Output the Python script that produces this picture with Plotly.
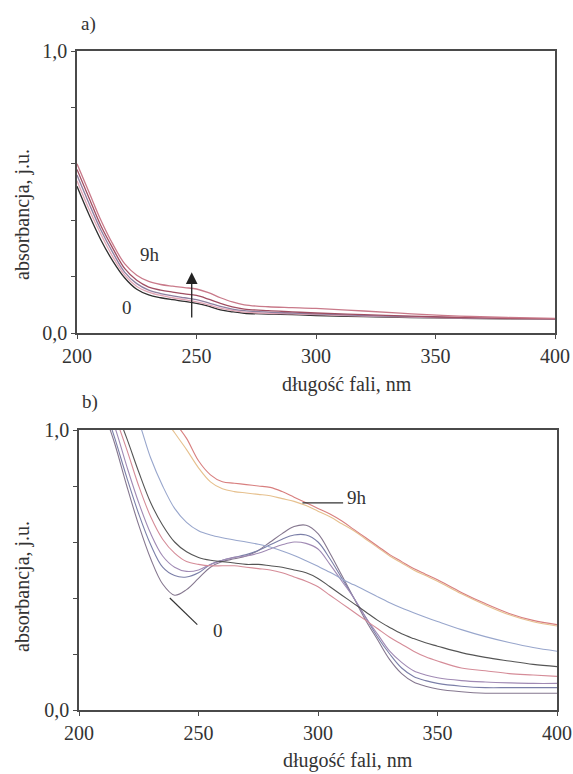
import plotly.graph_objects as go

# ---------------- data: panel a ----------------
wl_a = [200, 205, 210, 215, 220, 225, 230, 235, 240, 245, 250, 255, 260, 265, 270,
        280, 290, 300, 320, 340, 360, 380, 400]
a_0h = [0.52, 0.42, 0.33, 0.255, 0.195, 0.155, 0.135, 0.125, 0.118, 0.112, 0.105, 0.095,
        0.082, 0.075, 0.07, 0.067, 0.065, 0.062, 0.058, 0.055, 0.052, 0.05, 0.05]
a_2h = [0.54, 0.44, 0.35, 0.27, 0.205, 0.165, 0.145, 0.133, 0.125, 0.118, 0.11, 0.1,
        0.088, 0.08, 0.074, 0.07, 0.068, 0.065, 0.06, 0.056, 0.053, 0.051, 0.05]
a_4h = [0.56, 0.46, 0.365, 0.285, 0.215, 0.175, 0.152, 0.14, 0.132, 0.125, 0.118, 0.107,
        0.094, 0.085, 0.079, 0.074, 0.071, 0.068, 0.062, 0.058, 0.054, 0.052, 0.05]
a_6h = [0.58, 0.48, 0.38, 0.30, 0.228, 0.187, 0.163, 0.152, 0.145, 0.139, 0.133, 0.12,
        0.105, 0.093, 0.085, 0.079, 0.075, 0.071, 0.065, 0.06, 0.055, 0.052, 0.05]
a_9h = [0.60, 0.50, 0.40, 0.315, 0.245, 0.205, 0.183, 0.172, 0.166, 0.161, 0.156, 0.143,
        0.125, 0.11, 0.10, 0.093, 0.09, 0.087, 0.078, 0.068, 0.06, 0.055, 0.052]
series_a = [a_0h, a_2h, a_4h, a_6h, a_9h]
colors_a = ["#2e2e2e", "#e3a6b6", "#8f7fa0", "#a04e62", "#c97a8a"]

# ---------------- data: panel b ----------------
wl_b = [205, 210, 215, 220, 225, 230, 235, 240, 245, 250, 255, 260, 265, 270, 275, 280,
        285, 290, 295, 300, 305, 310, 315, 320, 325, 330, 335, 340, 345, 350, 360, 370,
        380, 390, 400]
b_0 = [1.25, 1.08, 0.95, 0.80, 0.66, 0.54, 0.45, 0.41, 0.43, 0.47, 0.51, 0.53, 0.54, 0.55,
       0.57, 0.60, 0.63, 0.655, 0.66, 0.63, 0.56, 0.48, 0.40, 0.32, 0.25, 0.18, 0.13, 0.10,
       0.085, 0.075, 0.065, 0.06, 0.06, 0.06, 0.06]
b_1 = [1.25, 1.10, 0.97, 0.83, 0.70, 0.59, 0.51, 0.48, 0.475, 0.49, 0.52, 0.535, 0.545,
       0.555, 0.57, 0.59, 0.61, 0.625, 0.625, 0.60, 0.54, 0.47, 0.40, 0.33, 0.26, 0.20, 0.15,
       0.12, 0.105, 0.095, 0.085, 0.08, 0.08, 0.08, 0.08]
b_2 = [1.27, 1.12, 1.01, 0.87, 0.74, 0.63, 0.55, 0.51, 0.495, 0.50, 0.52, 0.535, 0.545,
       0.55, 0.56, 0.575, 0.59, 0.60, 0.595, 0.575, 0.52, 0.46, 0.40, 0.33, 0.27, 0.21, 0.17,
       0.14, 0.125, 0.115, 0.105, 0.10, 0.097, 0.095, 0.095]
b_3 = [1.28, 1.15, 1.05, 0.93, 0.80, 0.69, 0.61, 0.56, 0.53, 0.52, 0.515, 0.515, 0.515,
       0.51, 0.505, 0.50, 0.49, 0.475, 0.46, 0.44, 0.41, 0.38, 0.35, 0.32, 0.29, 0.26, 0.235,
       0.21, 0.19, 0.175, 0.15, 0.14, 0.13, 0.125, 0.12]
b_4 = [1.30, 1.18, 1.08, 0.97, 0.85, 0.74, 0.66, 0.60, 0.565, 0.545, 0.535, 0.53, 0.525,
       0.52, 0.52, 0.515, 0.51, 0.50, 0.49, 0.47, 0.44, 0.41, 0.38, 0.35, 0.32, 0.295, 0.272,
       0.255, 0.24, 0.228, 0.205, 0.188, 0.175, 0.163, 0.155]
b_5 = [1.40, 1.31, 1.22, 1.13, 1.03, 0.90, 0.80, 0.72, 0.67, 0.64, 0.625, 0.615, 0.607,
       0.60, 0.592, 0.582, 0.568, 0.552, 0.533, 0.513, 0.492, 0.468, 0.447, 0.426, 0.404,
       0.383, 0.364, 0.347, 0.331, 0.316, 0.287, 0.262, 0.241, 0.223, 0.21]
b_8h = [1.50, 1.42, 1.35, 1.28, 1.20, 1.12, 1.05, 0.99, 0.93, 0.865, 0.815, 0.79, 0.78,
        0.775, 0.77, 0.765, 0.755, 0.745, 0.73, 0.71, 0.69, 0.665, 0.64, 0.61, 0.58, 0.55,
        0.525, 0.50, 0.48, 0.46, 0.415, 0.375, 0.34, 0.315, 0.30]
b_9h = [1.55, 1.47, 1.40, 1.33, 1.25, 1.17, 1.10, 1.03, 0.97, 0.89, 0.84, 0.815, 0.81,
        0.805, 0.80, 0.795, 0.78, 0.76, 0.74, 0.72, 0.70, 0.675, 0.645, 0.615, 0.585, 0.555,
        0.53, 0.505, 0.485, 0.465, 0.42, 0.38, 0.345, 0.32, 0.305]
series_b = [b_0, b_1, b_2, b_3, b_4, b_5, b_8h, b_9h]
colors_b = ["#85778f", "#7b7fa8", "#a08ab4", "#d58c98", "#555555", "#98a6cc",
            "#e6c08e", "#d87f7f"]

x_ticks = [200, 250, 300, 350, 400]
y_ticks = [0, 0.2, 0.4, 0.6, 0.8, 1.0]
y_ticktext = ["0,0", "", "", "", "", "1,0"]

FONT = "Liberation Serif"
AX = "#4a4a4a"
TXT = "#333333"

fig = go.Figure()
for ys, c in zip(series_a, colors_a):
    fig.add_trace(go.Scatter(x=wl_a, y=ys, mode="lines", line=dict(color=c, width=1.3, shape="spline"),
                             xaxis="x", yaxis="y", showlegend=False))
for ys, c in zip(series_b, colors_b):
    fig.add_trace(go.Scatter(x=wl_b, y=ys, mode="lines", line=dict(color=c, width=1.1, shape="spline"),
                             xaxis="x2", yaxis="y2", showlegend=False))

W, H = 573, 774
def xd(l, r):
    return [l / W, r / W]
def yd(top, bot):
    return [1 - bot / H, 1 - top / H]

axis_common = dict(showline=True, linecolor=AX, linewidth=1.6, mirror=True,
                   ticks="outside", ticklen=4, tickcolor=AX, tickwidth=1.2,
                   showgrid=False, zeroline=False,
                   tickfont=dict(family=FONT, size=20, color=TXT))

fig.update_layout(
    width=W, height=H, margin=dict(l=0, r=0, t=0, b=0, autoexpand=False),
    paper_bgcolor="white", plot_bgcolor="white",
    xaxis=dict(domain=xd(77, 555), anchor="y", range=[200, 400], tickvals=x_ticks, **axis_common),
    yaxis=dict(domain=yd(51, 333), anchor="x", range=[0, 1], tickvals=y_ticks, ticktext=y_ticktext, **axis_common),
    xaxis2=dict(domain=xd(79, 557), anchor="y2", range=[200, 400], tickvals=x_ticks, **axis_common),
    yaxis2=dict(domain=yd(430, 710), anchor="x2", range=[0, 1], tickvals=y_ticks, ticktext=y_ticktext, **axis_common),
)

tfont = dict(family=FONT, size=19, color=TXT)
afont = dict(family=FONT, size=20, color=TXT)
C = dict(xanchor="center", yanchor="middle", showarrow=False)
ann = []
# panel labels
ann.append(dict(text="a)", x=88 / W, y=1 - 24 / H, xref="paper", yref="paper", font=tfont, **C))
ann.append(dict(text="b)", x=90 / W, y=1 - 402 / H, xref="paper", yref="paper", font=tfont, **C))
# axis titles
for yc, xc in [(215, 22), (587, 22)]:
    ann.append(dict(text="absorbancja, j.u.", x=xc / W, y=1 - yc / H, xref="paper", yref="paper",
                    textangle=-90, font=afont, **C))
for yc, xc in [(385, 347), (760, 348)]:
    ann.append(dict(text="długość fali, nm", x=xc / W, y=1 - yc / H, xref="paper", yref="paper",
                    font=afont, **C))
# panel a labels and arrow
ann.append(dict(text="9h", x=230.5, y=0.28, xref="x", yref="y", font=tfont, **C))
ann.append(dict(text="0", x=221, y=0.089, xref="x", yref="y", font=tfont, **C))
ann.append(dict(text="", x=248, y=0.215, ax=248, ay=0.05, xref="x", yref="y", axref="x", ayref="y",
                showarrow=True, arrowhead=2, arrowsize=1.8, arrowwidth=1.3, arrowcolor="#222222"))
# panel b labels
ann.append(dict(text="9h", x=316.5, y=0.76, xref="x2", yref="y2", font=tfont, **C))
ann.append(dict(text="0", x=258, y=0.285, xref="x2", yref="y2", font=tfont, **C))
fig.update_layout(annotations=ann)

fig.add_shape(type="line", x0=293.5, y0=0.74, x1=310.5, y1=0.74, xref="x2", yref="y2",
              line=dict(color="#333333", width=1.2))
fig.add_shape(type="line", x0=238, y0=0.40, x1=249.5, y1=0.305, xref="x2", yref="y2",
              line=dict(color="#333333", width=1.2))

fig.write_html("out.html")
